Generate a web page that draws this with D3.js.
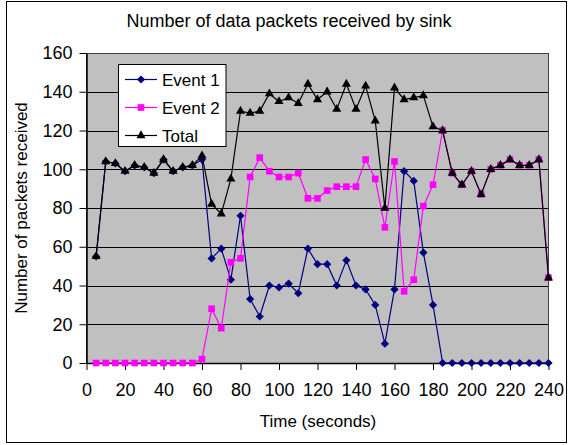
<!DOCTYPE html>
<html>
<head>
<meta charset="utf-8">
<script src="https://cdn.jsdelivr.net/npm/d3@7/dist/d3.min.js"></script>
<style>
  html, body { margin: 0; padding: 0; background: #fff; }
  svg text { font-family: "Liberation Sans", Arial, sans-serif; fill: #000; }
</style>
</head>
<body>
<svg id="chart" width="568" height="445"></svg>
<script>
// Sampling instants (seconds)
const times = [5, 10, 15, 20, 25, 30, 35, 40, 45, 50, 55, 60,
               65, 70, 75, 80, 85, 90, 95, 100, 105, 110, 115, 120,
               125, 130, 135, 140, 145, 150, 155, 160, 165, 170, 175, 180,
               185, 190, 195, 200, 205, 210, 215, 220, 225, 230, 235, 240];

// Packets received at the sink for each event and in total
const event1 = [55, 104, 103, 99, 102, 101, 98, 105, 99, 101, 102, 105,
                54, 59, 43, 76, 33, 24, 40, 39, 41, 36, 59, 51,
                51, 40, 53, 40, 38, 30, 10, 38, 99, 94, 57, 30,
                0, 0, 0, 0, 0, 0, 0, 0, 0, 0, 0, 0];
const event2 = [0, 0, 0, 0, 0, 0, 0, 0, 0, 0, 0, 2,
                28, 18, 52, 54, 96, 106, 99, 96, 96, 98, 85, 85,
                89, 91, 91, 91, 105, 95, 70, 104, 37, 43, 81, 92,
                120, 98, 92, 99, 87, 100, 102, 105, 102, 102, 105, 44];
const total  = [55, 104, 103, 99, 102, 101, 98, 105, 99, 101, 102, 107,
                82, 77, 95, 130, 129, 130, 139, 135, 137, 134, 144, 136,
                140, 131, 144, 131, 143, 125, 80, 142, 136, 137, 138, 122,
                120, 98, 92, 99, 87, 100, 102, 105, 102, 102, 105, 44];

const xTicks = [0, 20, 40, 60, 80, 100, 120, 140, 160, 180, 200, 220, 240];
const yTicks = [0, 20, 40, 60, 80, 100, 120, 140, 160];

const seriesNames = ["Event 1", "Event 2", "Total"];

const svg = d3.select("#chart");
const FONT = 17;
const TICK_FONT = 18;

// Outer chart frame
svg.append("rect")
  .attr("x", 6.5).attr("y", 1.5).attr("width", 560).attr("height", 441)
  .attr("fill", "#fff").attr("stroke", "#000").attr("stroke-width", 1);

const plot = { left: 86.5, right: 548.5, top: 53, bottom: 363 };
const x = d3.scaleLinear().domain([0, 240]).range([plot.left, plot.right]);
const y = d3.scaleLinear().domain([0, 160]).range([plot.bottom, plot.top]);

// Plot background
svg.append("rect")
  .attr("x", plot.left).attr("y", plot.top)
  .attr("width", plot.right - plot.left).attr("height", plot.bottom - plot.top)
  .attr("fill", "#c0c0c0");

// Horizontal gridlines
svg.append("g").selectAll("line").data(yTicks.filter(d => d > 0)).join("line")
  .attr("x1", plot.left).attr("x2", plot.right)
  .attr("y1", d => Math.round(y(d)) + 0.5).attr("y2", d => Math.round(y(d)) + 0.5)
  .attr("stroke", "#000").attr("stroke-width", 1);

// Plot border
svg.append("rect")
  .attr("x", plot.left).attr("y", plot.top + 0.5)
  .attr("width", plot.right - plot.left).attr("height", plot.bottom - plot.top)
  .attr("fill", "none").attr("stroke", "#404040").attr("stroke-width", 1);

// Axes
const yAxis = svg.append("g")
  .attr("transform", `translate(${plot.left},0)`)
  .call(d3.axisLeft(y).tickValues(yTicks).tickSize(7).tickPadding(7).tickSizeOuter(0));
const xAxis = svg.append("g")
  .attr("transform", `translate(0,${plot.bottom})`)
  .call(d3.axisBottom(x).tickValues(xTicks).tickSize(7).tickPadding(13).tickSizeOuter(0));
[yAxis, xAxis].forEach(g => {
  g.selectAll("path.domain").attr("stroke", "#000").attr("stroke-width", 1.5);
  g.selectAll(".tick line").attr("stroke", "#000");
  g.selectAll("text").attr("font-size", TICK_FONT)
    .attr("font-family", "'Liberation Sans', Arial, sans-serif").attr("fill", "#000");
});

// Series (diamond = square turned 45 degrees)
const styles = [
  { name: seriesNames[0], values: event1, color: "#000080", symbol: d3.symbolSquare, size: 34, rot: 45 },
  { name: seriesNames[1], values: event2, color: "#ff00ff", symbol: d3.symbolSquare, size: 44, rot: 0 },
  { name: seriesNames[2], values: total,  color: "#000000", symbol: d3.symbolTriangle, size: 36, rot: 0 }
];

const line = d3.line().x(d => x(d[0])).y(d => y(d[1]));

styles.forEach(s => {
  const pts = times.map((t, i) => [t, s.values[i]]);
  svg.append("path").datum(pts)
    .attr("d", line).attr("fill", "none")
    .attr("stroke", s.color).attr("stroke-width", 1.2);
  svg.append("g").selectAll("path").data(pts).join("path")
    .attr("transform", d => `translate(${x(d[0])},${y(d[1])}) rotate(${s.rot})`)
    .attr("d", d3.symbol().type(s.symbol).size(s.size))
    .attr("fill", s.color);
});

// Legend
const legend = svg.append("g");
legend.append("rect")
  .attr("x", 118.5).attr("y", 64.5).attr("width", 107.5).attr("height", 82)
  .attr("fill", "#fff").attr("stroke", "#000").attr("stroke-width", 1);
styles.forEach((s, i) => {
  const cy = 79.5 + i * 28;
  legend.append("line")
    .attr("x1", 125).attr("x2", 157).attr("y1", cy).attr("y2", cy)
    .attr("stroke", s.color).attr("stroke-width", 1.2);
  legend.append("path")
    .attr("transform", `translate(141,${cy}) rotate(${s.rot})`)
    .attr("d", d3.symbol().type(s.symbol).size(s.size))
    .attr("fill", s.color);
  legend.append("text")
    .attr("x", 162).attr("y", cy).attr("dy", "0.36em")
    .attr("font-size", FONT).text(s.name);
});

// Titles
svg.append("text")
  .attr("x", 289).attr("y", 27).attr("text-anchor", "middle")
  .attr("font-size", 18).text("Number of data packets received by sink");
svg.append("text")
  .attr("x", 318).attr("y", 427).attr("text-anchor", "middle")
  .attr("font-size", FONT).text("Time (seconds)");
svg.append("text")
  .attr("transform", `translate(27,${(plot.top + plot.bottom) / 2}) rotate(-90)`)
  .attr("text-anchor", "middle")
  .attr("font-size", FONT).text("Number of packets received");
</script>
</body>
</html>
